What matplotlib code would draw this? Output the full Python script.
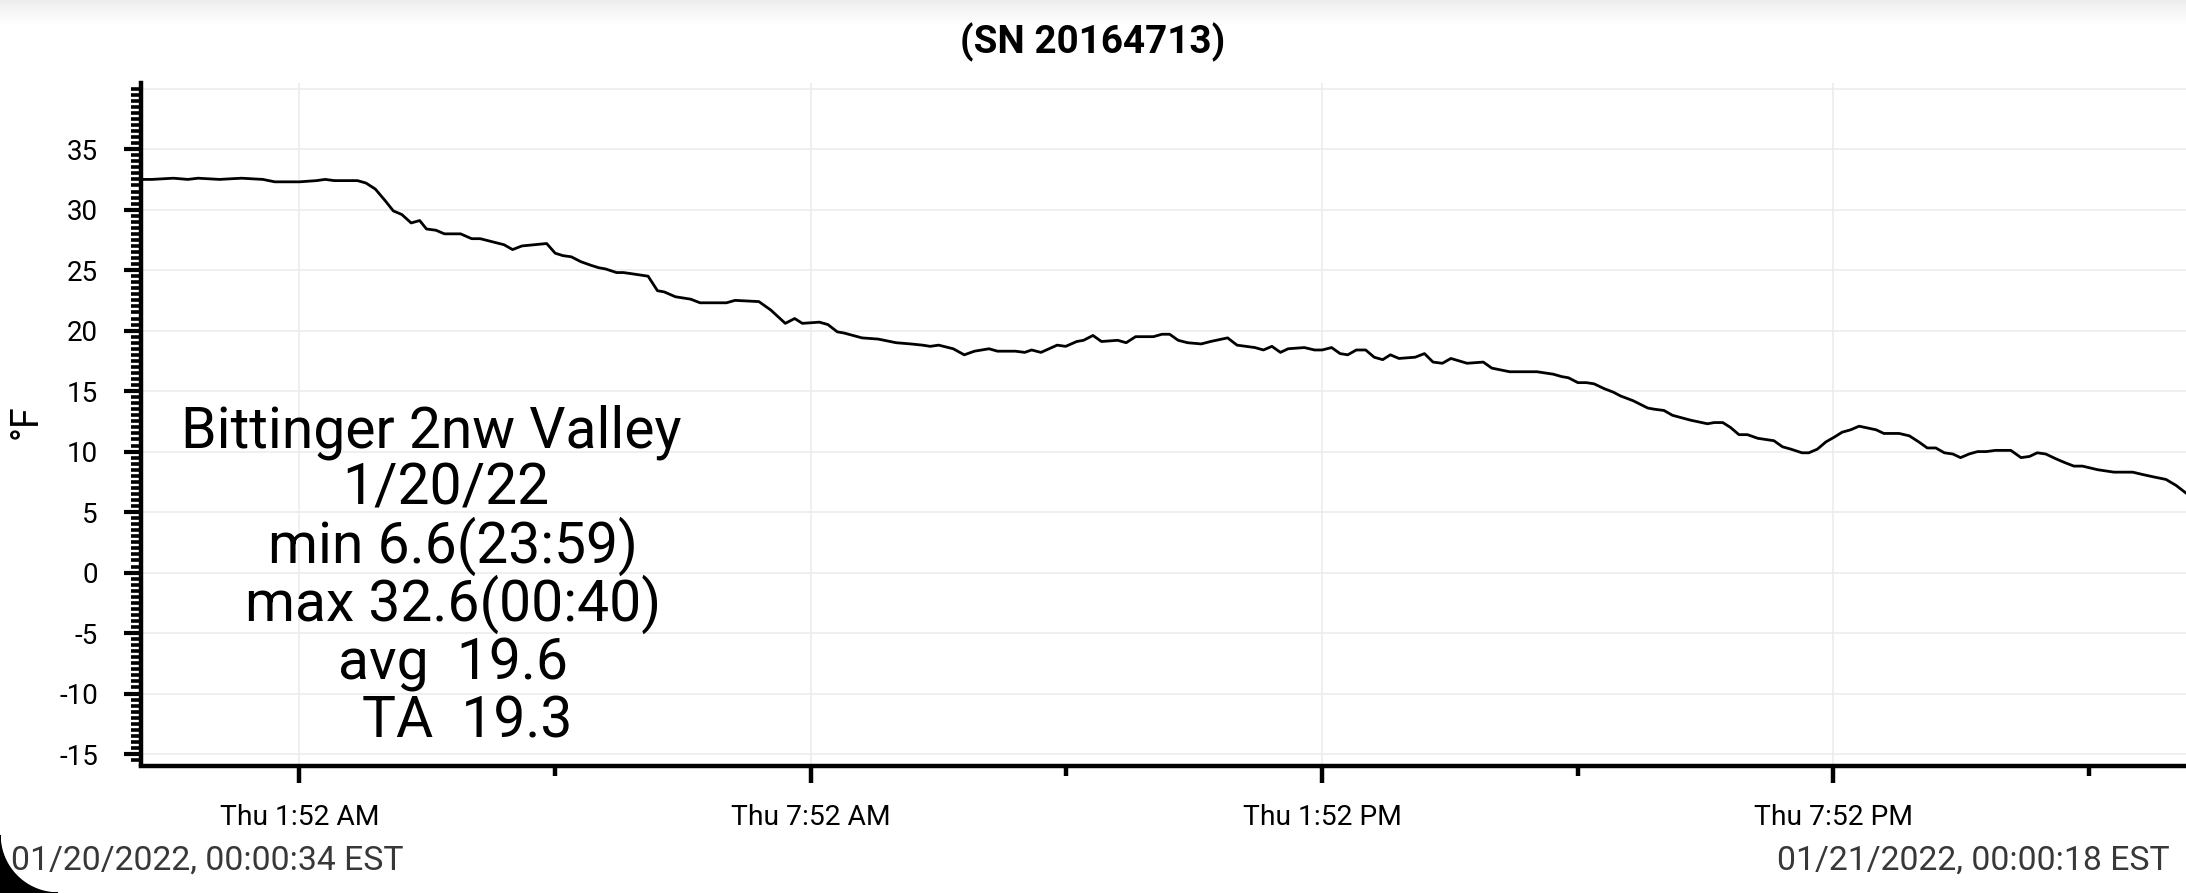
import datetime as dt
import numpy as np
import matplotlib
matplotlib.use("Agg")
import matplotlib.pyplot as plt
import matplotlib.dates as mdates
from matplotlib.patches import Polygon
from matplotlib.ticker import MultipleLocator, FixedLocator, FuncFormatter

plt.rcParams['font.family'] = ['Roboto', 'DejaVu Sans']
plt.rcParams['axes.unicode_minus'] = False

# --- Data ---
title = "(SN 20164713)"
start_time = dt.datetime(2022, 1, 20, 0, 0, 34)
end_time = dt.datetime(2022, 1, 21, 0, 0, 18)
start_label = "01/20/2022, 00:00:34 EST"
end_label = "01/21/2022, 00:00:18 EST"

# hours since first sample
elapsed_h = [
    0.00, 0.13, 0.38, 0.55, 0.67, 0.92, 1.18, 1.43, 1.57, 1.86, 2.06, 2.16, 2.27, 2.39, 2.54,
    2.64, 2.75, 2.87, 2.96, 3.06, 3.17, 3.27, 3.35, 3.46, 3.56, 3.75, 3.88, 3.98, 4.09, 4.26,
    4.36, 4.47, 4.76, 4.86, 4.95, 5.05, 5.16, 5.28, 5.37, 5.45, 5.58, 5.66, 5.76, 5.95, 6.06,
    6.14, 6.27, 6.45, 6.56, 6.87, 6.97, 7.25, 7.39, 7.56, 7.67, 7.76, 7.96, 8.06, 8.17, 8.25,
    8.46, 8.65, 8.86, 9.03, 9.17, 9.26, 9.36, 9.53, 9.66, 9.78, 9.95, 10.05, 10.26, 10.37, 10.45,
    10.56, 10.75, 10.85, 10.98, 11.06, 11.17, 11.27, 11.46, 11.56, 11.67, 11.88, 11.98, 12.07, 12.17, 12.28,
    12.44, 12.55, 12.75, 12.86, 13.07, 13.17, 13.27, 13.37, 13.46, 13.65, 13.77, 13.86, 13.97, 14.07, 14.16,
    14.26, 14.37, 14.47, 14.57, 14.66, 14.76, 14.95, 15.06, 15.16, 15.27, 15.37, 15.56, 15.75, 15.85, 16.06,
    16.25, 16.38, 16.57, 16.67, 16.75, 16.86, 16.96, 17.05, 17.17, 17.28, 17.36, 17.51, 17.68, 17.76, 17.87,
    17.97, 18.18, 18.38, 18.46, 18.56, 18.65, 18.75, 18.85, 18.97, 19.16, 19.26, 19.36, 19.49, 19.57, 19.67,
    19.77, 19.87, 19.96, 20.06, 20.16, 20.36, 20.45, 20.63, 20.75, 20.86, 20.96, 21.06, 21.16, 21.26, 21.35,
    21.45, 21.55, 21.65, 21.76, 21.94, 22.06, 22.16, 22.25, 22.35, 22.47, 22.57, 22.68, 22.78, 22.96, 23.15,
    23.37, 23.49, 23.62, 23.76, 23.88, 23.99,
]
temp_f = [
    32.5, 32.5, 32.6, 32.5, 32.6, 32.5, 32.6, 32.5, 32.3, 32.3, 32.4, 32.5, 32.4, 32.4, 32.4,
    32.2, 31.7, 30.7, 29.9, 29.6, 28.9, 29.1, 28.4, 28.3, 28.0, 28.0, 27.6, 27.6, 27.4, 27.1,
    26.7, 27.0, 27.2, 26.4, 26.2, 26.1, 25.7, 25.4, 25.2, 25.1, 24.8, 24.8, 24.7, 24.5, 23.3,
    23.2, 22.8, 22.6, 22.3, 22.3, 22.5, 22.4, 21.7, 20.6, 21.0, 20.6, 20.7, 20.5, 19.9, 19.8,
    19.4, 19.3, 19.0, 18.9, 18.8, 18.7, 18.8, 18.5, 18.0, 18.3, 18.5, 18.3, 18.3, 18.2, 18.4,
    18.2, 18.8, 18.7, 19.1, 19.2, 19.6, 19.1, 19.2, 19.0, 19.5, 19.5, 19.7, 19.7, 19.2, 19.0,
    18.9, 19.1, 19.4, 18.8, 18.6, 18.4, 18.7, 18.2, 18.5, 18.6, 18.4, 18.4, 18.6, 18.1, 18.0,
    18.4, 18.4, 17.8, 17.6, 18.0, 17.7, 17.8, 18.1, 17.4, 17.3, 17.7, 17.3, 17.4, 16.9, 16.6,
    16.6, 16.6, 16.4, 16.2, 16.1, 15.7, 15.7, 15.6, 15.2, 14.9, 14.6, 14.2, 13.6, 13.5, 13.4,
    13.0, 12.6, 12.3, 12.4, 12.4, 12.0, 11.4, 11.4, 11.1, 10.9, 10.4, 10.2, 9.9, 9.9, 10.2,
    10.8, 11.2, 11.6, 11.8, 12.1, 11.8, 11.5, 11.5, 11.3, 10.8, 10.3, 10.3, 9.9, 9.8, 9.5,
    9.8, 10.0, 10.0, 10.1, 10.1, 9.5, 9.6, 9.9, 9.8, 9.4, 9.1, 8.8, 8.8, 8.5, 8.3,
    8.3, 8.1, 7.9, 7.7, 7.2, 6.6,
]

major_tick_times = ["01:52", "07:52", "13:52", "19:52"]
minor_tick_times = ["04:52", "10:52", "16:52", "22:52"]

summary_lines = [
    "Bittinger 2nw Valley",
    "1/20/22",
    "min 6.6(23:59)",
    "max 32.6(00:40)",
    "avg  19.6",
    "TA  19.3",
]

# --- Build times ---
times = [start_time + dt.timedelta(hours=h) for h in elapsed_h]


def clock(s):
    hh, mm = s.split(":")
    return mdates.date2num(start_time.replace(hour=int(hh), minute=int(mm), second=0))


def fmt_tick(x, pos):
    d = mdates.num2date(x)
    ampm = "AM" if d.hour < 12 else "PM"
    return f"{d:%a} {d.hour % 12 or 12}:{d:%M} {ampm}"


W, H = 2186, 893
fig = plt.figure(figsize=(W / 100, H / 100), dpi=100)
fig.patch.set_facecolor("white")

ax = fig.add_axes([141 / W, (H - 765.5) / H, 1 - 141 / W, (765.5 - 83) / H])
ax.plot(times, temp_f, color="black", lw=2.0, zorder=3)

ax.set_xlim(start_time, end_time)
ax.set_ylim(-15.95, 40.47)

ax.yaxis.set_major_locator(FixedLocator(list(range(-15, 40, 5))))
ax.yaxis.set_minor_locator(MultipleLocator(0.5))
ax.xaxis.set_major_locator(FixedLocator([clock(t) for t in major_tick_times]))
ax.xaxis.set_minor_locator(FixedLocator([clock(t) for t in minor_tick_times]))
ax.xaxis.set_major_formatter(FuncFormatter(fmt_tick))

ax.grid(True, which="major", color="#ececec", lw=1.2, zorder=0)
ax.axhline(40, color="#ececec", lw=1.2, zorder=0)

for side in ("top", "right"):
    ax.spines[side].set_visible(False)
for side in ("left", "bottom"):
    ax.spines[side].set_linewidth(3.2)
    ax.spines[side].set_color("black")

ax.tick_params(axis="y", which="major", length=12, width=3, pad=19, labelsize=20)
ax.tick_params(axis="y", which="minor", length=7.5, width=2.6)
ax.tick_params(axis="x", which="major", length=12.5, width=3.2, pad=15, labelsize=20.3)
ax.tick_params(axis="x", which="minor", length=7, width=3.2)

ax.set_ylabel("°F", fontsize=27, va="center")
ax.yaxis.set_label_coords((26 - 141) / (W - 141), (765.5 - 422) / (765.5 - 83))

# title
fig.text(0.5, 1 - 42 / H, title, ha="center", va="center", fontsize=27.8, fontweight="bold")

# summary block
line_x = [431, 446, 453, 453, 453, 467]
for i, txt in enumerate(summary_lines):
    fig.text(line_x[i] / W, (H - (447 + i * 58)) / H, txt, ha="center", va="baseline",
             fontsize=41, color="black")

# start / end stamps
fig.text(11 / W, (H - 870) / H, start_label, ha="left", va="baseline", fontsize=24.3, color="#383838")
fig.text(2170 / W, (H - 870) / H, end_label, ha="right", va="baseline", fontsize=24.3, color="#383838")

# top shadow strip
gax = fig.add_axes([0, 1 - 25 / H, 1, 25 / H])
gax.imshow(np.linspace(0.14, 0.0, 50).reshape(-1, 1), cmap="Greys", vmin=0, vmax=1,
           aspect="auto", extent=[0, 1, 0, 1])
gax.axis("off")

# rounded screen corner at bottom left
r = 0.58
theta = np.linspace(np.pi, 1.5 * np.pi, 40)
corner = [(0, 0)] + list(zip(r + r * np.cos(theta), r + r * np.sin(theta)))
fig.add_artist(Polygon(corner, closed=True, transform=fig.dpi_scale_trans, color="black"))

fig.savefig("out.png", dpi=100)
